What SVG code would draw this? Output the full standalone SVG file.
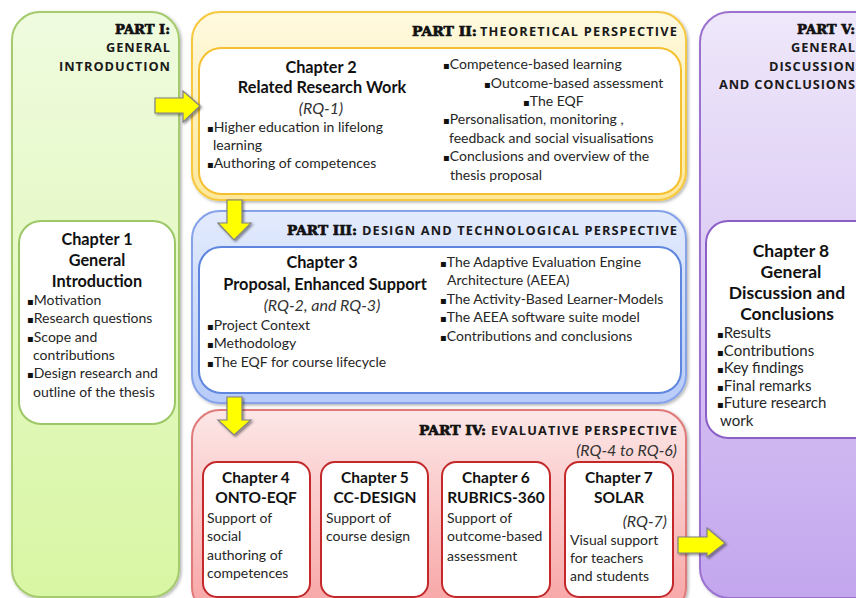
<svg xmlns="http://www.w3.org/2000/svg" width="856" height="598" viewBox="0 0 856 598">
  <defs>
    <linearGradient id="gGreen" x1="0" y1="0" x2="0" y2="1">
      <stop offset="0" stop-color="#effbdf"/>
      <stop offset="1" stop-color="#d8f6a3"/>
    </linearGradient>
    <linearGradient id="gYellow" x1="0" y1="0" x2="0" y2="1">
      <stop offset="0" stop-color="#fffae0"/>
      <stop offset="1" stop-color="#fde79a"/>
    </linearGradient>
    <linearGradient id="gBlue" x1="0" y1="0" x2="0" y2="1">
      <stop offset="0" stop-color="#e3ebfd"/>
      <stop offset="1" stop-color="#b8ccf9"/>
    </linearGradient>
    <linearGradient id="gRed" x1="0" y1="0" x2="0" y2="1">
      <stop offset="0" stop-color="#fde7e7"/>
      <stop offset="1" stop-color="#f8a3a3"/>
    </linearGradient>
    <linearGradient id="gPurple" x1="0" y1="0" x2="0" y2="1">
      <stop offset="0" stop-color="#efe8fa"/>
      <stop offset="1" stop-color="#c3a6ee"/>
    </linearGradient>
    <filter id="shadow" x="-10%" y="-10%" width="130%" height="130%">
      <feDropShadow dx="1.5" dy="1.5" stdDeviation="1.5" flood-color="#000" flood-opacity="0.3"/>
    </filter>
    <filter id="arrowShadow" x="-30%" y="-30%" width="160%" height="160%">
      <feDropShadow dx="1.5" dy="1.5" stdDeviation="1.2" flood-color="#000" flood-opacity="0.45"/>
    </filter>
  </defs>
  <style>
    .panel { stroke-width: 2; filter: url(#shadow); }
    .box { fill: #ffffff; stroke-width: 2; }
    text { font-family: Lato, "Open Sans", "Liberation Sans", sans-serif; fill: #262626; }
    .t { font-size: 14px; }
    .t8 { font-size: 15px; }
    .h { font-size: 16.3px; font-weight: bold; fill: #111; text-anchor: middle; }
    .hs { font-size: 15.5px; font-weight: bold; fill: #111; text-anchor: middle; }
    .h8 { font-size: 17.5px; font-weight: bold; fill: #111; text-anchor: middle; }
    .i { font-size: 16px; font-style: italic; fill: #333; }
    .c { text-anchor: middle; }
    .pl { font-family: "DejaVu Serif", "Liberation Serif", serif; font-weight: bold; font-size: 13.5px; fill: #111; stroke: #111; stroke-width: 0.7; }
    .ps { font-family: "Open Sans", "DejaVu Sans", sans-serif; font-weight: bold; font-size: 12.8px; fill: #1a1a1a; }
    .e { text-anchor: end; }
    .b { font-family: "DejaVu Sans", sans-serif; font-size: 10px; fill: #111; }
    .arrow { fill: #ffff00; stroke: #808080; stroke-width: 1.2; stroke-linejoin: miter; filter: url(#arrowShadow); }
  </style>

  <!-- Part I: general introduction -->
  <g id="part1">
    <rect class="panel" x="12" y="12" width="167" height="585" rx="28" fill="url(#gGreen)" stroke="#a6cb6e"/>
    <text class="pl e" x="170" y="34" textLength="55" lengthAdjust="spacingAndGlyphs">PART I:</text>
    <text class="ps e" x="170" y="52" textLength="64">GENERAL</text>
    <text class="ps e" x="170" y="71" textLength="111">INTRODUCTION</text>
  </g>

  <g id="chapter1">
    <rect class="box" x="19" y="221" width="156" height="203" rx="22" stroke="#9cc766"/>
    <text class="h" x="97" y="245">Chapter 1</text>
    <text class="h" x="97" y="266">General</text>
    <text class="h" x="97" y="287">Introduction</text>
    <text class="t" x="27" y="305"><tspan class="b">▪</tspan>Motivation</text>
    <text class="t" x="27" y="323"><tspan class="b">▪</tspan>Research questions</text>
    <text class="t" x="27" y="342"><tspan class="b">▪</tspan>Scope and</text>
    <text class="t" x="33" y="360">contributions</text>
    <text class="t" x="27" y="378"><tspan class="b">▪</tspan>Design research and</text>
    <text class="t" x="33" y="397">outline of the thesis</text>
  </g>

  <!-- Part II: theoretical perspective -->
  <g id="part2">
    <rect class="panel" x="192" y="12" width="494" height="188" rx="28" fill="url(#gYellow)" stroke="#f6c83f" stroke-width="2.5"/>
    <text class="pl" x="412" y="36" textLength="65" lengthAdjust="spacingAndGlyphs">PART II:</text>
    <text class="ps e" x="677" y="36" textLength="197">THEORETICAL PERSPECTIVE</text>
  </g>

  <g id="chapter2">
    <rect class="box" x="199" y="48" width="482" height="146" rx="22" stroke="#f4c030"/>
    <text class="h" x="321" y="73">Chapter 2</text>
    <text class="h" x="322" y="93">Related Research Work</text>
    <text class="i c" x="321" y="114">(RQ-1)</text>
    <text class="t" x="207" y="132"><tspan class="b">▪</tspan>Higher education in lifelong</text>
    <text class="t" x="213" y="150">learning</text>
    <text class="t" x="207" y="168"><tspan class="b">▪</tspan>Authoring of competences</text>
    <text class="t" x="443" y="69"><tspan class="b">▪</tspan>Competence-based  learning</text>
    <text class="t" x="484" y="88"><tspan class="b">▪</tspan>Outcome-based assessment</text>
    <text class="t" x="523" y="106"><tspan class="b">▪</tspan>The EQF</text>
    <text class="t" x="443" y="124"><tspan class="b">▪</tspan>Personalisation, monitoring ,</text>
    <text class="t" x="449" y="143">feedback and social visualisations</text>
    <text class="t" x="443" y="161"><tspan class="b">▪</tspan>Conclusions and overview of the</text>
    <text class="t" x="450" y="180">thesis proposal</text>
  </g>

  <!-- Part III: design and technological perspective -->
  <g id="part3">
    <rect class="panel" x="192" y="211" width="494" height="192" rx="28" fill="url(#gBlue)" stroke="#86a3ea"/>
    <text class="pl" x="287" y="235" textLength="70" lengthAdjust="spacingAndGlyphs">PART III:</text>
    <text class="ps e" x="677" y="235" textLength="315">DESIGN AND TECHNOLOGICAL PERSPECTIVE</text>
  </g>

  <g id="chapter3">
    <rect class="box" x="199" y="247" width="482" height="146" rx="22" stroke="#5f86df"/>
    <text class="h" x="322" y="268">Chapter 3</text>
    <text class="h" x="325" y="290">Proposal, Enhanced Support</text>
    <text class="i c" x="322" y="311">(RQ-2, and RQ-3)</text>
    <text class="t" x="207" y="330"><tspan class="b">▪</tspan>Project Context</text>
    <text class="t" x="207" y="348"><tspan class="b">▪</tspan>Methodology</text>
    <text class="t" x="207" y="367"><tspan class="b">▪</tspan>The EQF for course lifecycle</text>
    <text class="t" x="440" y="267"><tspan class="b">▪</tspan>The Adaptive Evaluation Engine</text>
    <text class="t" x="447" y="285">Architecture (AEEA)</text>
    <text class="t" x="440" y="304"><tspan class="b">▪</tspan>The Activity-Based Learner-Models</text>
    <text class="t" x="440" y="322"><tspan class="b">▪</tspan>The AEEA software suite model</text>
    <text class="t" x="440" y="341"><tspan class="b">▪</tspan>Contributions and conclusions</text>
  </g>

  <!-- Part IV: evaluative perspective -->
  <g id="part4">
    <rect class="panel" x="192" y="410" width="494" height="205" rx="28" fill="url(#gRed)" stroke="#e07a7a"/>
    <text class="pl" x="419" y="435" textLength="67" lengthAdjust="spacingAndGlyphs">PART IV:</text>
    <text class="ps e" x="677" y="435" textLength="186">EVALUATIVE PERSPECTIVE</text>
    <text class="i e" x="677" y="456">(RQ-4 to RQ-6)</text>
  </g>

  <g id="chapter4">
    <rect class="box" x="203" y="462" width="107" height="135" rx="14" stroke="#c3282b"/>
    <text class="hs" x="256" y="483">Chapter 4</text>
    <text class="hs" x="256" y="503">ONTO-EQF</text>
    <text class="t" x="207" y="523">Support of</text>
    <text class="t" x="207" y="541">social</text>
    <text class="t" x="207" y="560">authoring of</text>
    <text class="t" x="207" y="578">competences</text>
  </g>

  <g id="chapter5">
    <rect class="box" x="321" y="462" width="107" height="135" rx="14" stroke="#c3282b"/>
    <text class="hs" x="375" y="483">Chapter 5</text>
    <text class="hs" x="375" y="503">CC-DESIGN</text>
    <text class="t" x="326" y="523">Support of</text>
    <text class="t" x="326" y="541">course design</text>
  </g>

  <g id="chapter6">
    <rect class="box" x="442" y="462" width="108" height="135" rx="14" stroke="#c3282b"/>
    <text class="hs" x="496" y="483">Chapter 6</text>
    <text class="hs" x="496" y="503">RUBRICS-360</text>
    <text class="t" x="447" y="523">Support of</text>
    <text class="t" x="447" y="541">outcome-based</text>
    <text class="t" x="447" y="561">assessment</text>
  </g>

  <g id="chapter7">
    <rect class="box" x="565" y="462" width="108" height="135" rx="14" stroke="#c3282b"/>
    <text class="hs" x="619" y="483">Chapter 7</text>
    <text class="hs" x="619" y="503">SOLAR</text>
    <text class="i e" x="667" y="527">(RQ-7)</text>
    <text class="t" x="570" y="545">Visual support</text>
    <text class="t" x="570" y="563">for teachers</text>
    <text class="t" x="570" y="581">and students</text>
  </g>

  <!-- Part V: general discussion and conclusions -->
  <g id="part5">
    <rect class="panel" x="700" y="12" width="200" height="586" rx="30" fill="url(#gPurple)" stroke="#9b72cf"/>
    <text class="pl e" x="855" y="34" textLength="58" lengthAdjust="spacingAndGlyphs">PART V:</text>
    <text class="ps e" x="855" y="52" textLength="64">GENERAL</text>
    <text class="ps e" x="855" y="71" textLength="86">DISCUSSION</text>
    <text class="ps e" x="855" y="89" textLength="136">AND CONCLUSIONS</text>
  </g>

  <g id="chapter8">
    <rect class="box" x="706" y="221" width="170" height="217" rx="22" stroke="#8c5fc6"/>
    <text class="h8" x="791" y="257">Chapter 8</text>
    <text class="h8" x="791" y="278">General</text>
    <text class="h8" x="787" y="299">Discussion and</text>
    <text class="h8" x="787" y="320">Conclusions</text>
    <text class="t8" x="717" y="338"><tspan class="b">▪</tspan>Results</text>
    <text class="t8" x="717" y="356"><tspan class="b">▪</tspan>Contributions</text>
    <text class="t8" x="717" y="373"><tspan class="b">▪</tspan>Key findings</text>
    <text class="t8" x="717" y="391"><tspan class="b">▪</tspan>Final remarks</text>
    <text class="t8" x="717" y="408"><tspan class="b">▪</tspan>Future research</text>
    <text class="t8" x="720" y="426">work</text>
  </g>

  <!-- Connectors: block arrows between the parts -->
  <g id="connectors">
    <polygon class="arrow" points="155,98 183,98 183,91 200,106 183,122 183,113 155,113"/>
    <polygon class="arrow" points="227,200 242,200 242,223 251,223 234,240 218,223 227,223"/>
    <polygon class="arrow" points="227,397 242,397 242,420 251,420 234,435 218,420 227,420"/>
    <polygon class="arrow" points="678,537 707,537 707,528 725,543 707,557 707,553 678,553"/>
  </g>
</svg>
